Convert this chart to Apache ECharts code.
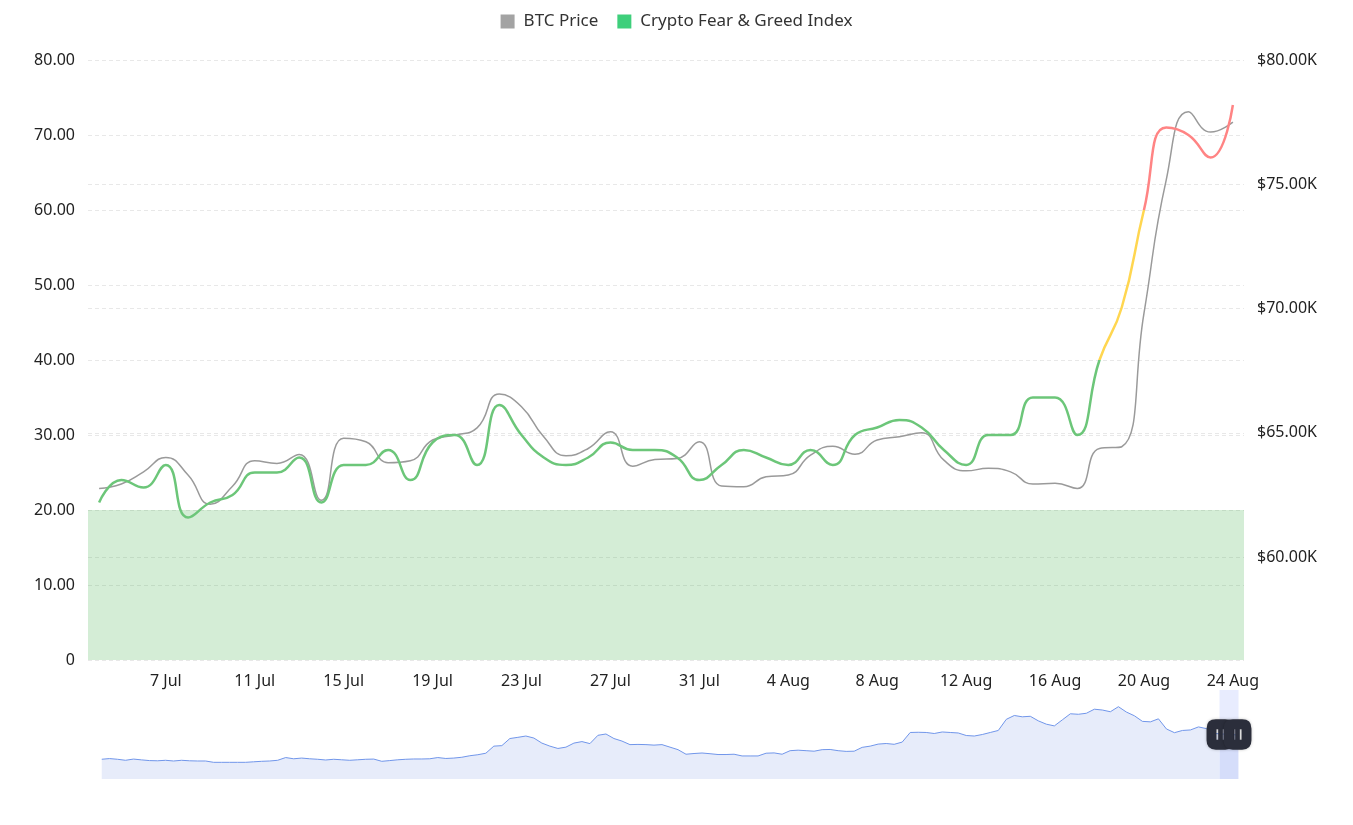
<!DOCTYPE html>
<html>
<head>
<meta charset="utf-8">
<script src="https://cdn.jsdelivr.net/npm/echarts@6/dist/echarts.min.js"></script>
<style>
html,body{margin:0;padding:0;background:#fff;}
#chart{width:1353px;height:825px;}
</style>
</head>
<body>
<div id="chart"></div>
<script>
// ---- data ----
const categories = ['4 Jul','5 Jul','6 Jul','7 Jul','8 Jul','9 Jul','10 Jul','11 Jul','12 Jul','13 Jul','14 Jul','15 Jul','16 Jul','17 Jul','18 Jul','19 Jul','20 Jul','21 Jul','22 Jul','23 Jul','24 Jul','25 Jul','26 Jul','27 Jul','28 Jul','29 Jul','30 Jul','31 Jul',
  '1 Aug','2 Aug','3 Aug','4 Aug','5 Aug','6 Aug','7 Aug','8 Aug','9 Aug','10 Aug','11 Aug','12 Aug','13 Aug','14 Aug','15 Aug','16 Aug','17 Aug','18 Aug','19 Aug','20 Aug','21 Aug','22 Aug','23 Aug','24 Aug'];

const btcPrice = [62760,62940,63430,64010,63300,62130,62850,63880,63770,64130,62290,64780,64640,63800,63880,64710,64910,65200,66560,66050,64840,64080,64370,65040,63660,63930,63970,64640,
  62860,62830,63230,63300,64100,64460,64140,64710,64840,65000,63900,63470,63570,63430,62940,62970,62760,64370,64440,69810,75170,77920,77100,77500];

const fearGreed = [21,24,23,26,19,21,22,25,25,27,21,26,26,28,24,29,30,26,34,30,27,26,27,29,28,28,27,24,
  26,28,27,26,28,26,30,31,32,31,28,26,30,30,35,35,30,40,47,60,71,70,67,74];

// long history shown only in the zoom slider's overview (relative level)
const history = [19,19.7,19,18,19.2,18.4,17.7,17.5,18,17.3,18,17.5,17.3,17.3,16,16,16,16,16,16.5,
  17,17.3,18,20.7,19.5,20.2,19.5,19,18.3,19,18.5,18,18.5,19,19.2,17,17.7,18.5,19,19.3,
  19.3,19.5,20.7,19.8,20.2,21,22.5,23.5,25,32,32.5,39.5,40.7,42,40,35,32,29.7,31,35,
  36.5,34.5,42.7,44,39.5,37,33.5,33.7,33.5,33,33.5,31,28.5,24,24.7,25.2,24.5,23.7,23.7,24,
  22.3,22.3,22.3,25,25.3,24,27.5,28,27.5,27,28.5,28.7,27.5,26.8,27,30.8,32,34,34.6,33.8,
  36,45.5,45.7,45.5,44.5,46,45.5,45,42.5,42,43.5,45.5,47.5,58.5,62.3,61,61.5,57,53.7,52,
  58,64,63.5,64.5,68.5,67.7,66,71,65.7,62,56.5,56,59,49,45.3,47.5,48,51,49.3,44.5,
  44,43.5,43];

const legendNames = ['BTC Price', 'Crypto Fear & Greed Index'];
const fgPieces = [
  { lte: 40, color: '#6cc679' },
  { gt: 40, lte: 60, color: '#ffd650' },
  { gt: 60, color: '#ff8484' }
];
const zoneBand = [0, 20];

// ---- chart ----
const chart = echarts.init(document.getElementById('chart'), null, { renderer: 'canvas' });
const FONT = 'Noto Sans';
const splitStyle = { show: true, lineStyle: { color: '#e8e8e8', type: [4, 3], width: 1 } };

const handlePath = 'path://M8,0 L16,0 Q24,0 24,8 L24,18 Q24,26 16,26 L8,26 Q0,26 0,18 L0,8 Q0,0 8,0 Z ' +
  'M8.5,8.5 L8.5,17.5 L10,17.5 L10,8.5 Z M14,8.5 L14,17.5 L15.5,17.5 L15.5,8.5 Z';

const option = {
  animation: false,
  textStyle: { fontFamily: FONT },
  legend: {
    data: legendNames,
    top: 8,
    left: 'center',
    icon: 'rect',
    itemWidth: 14,
    itemHeight: 14,
    itemGap: 19,
    textStyle: { fontSize: 17, color: '#333', fontFamily: FONT, padding: [0, 0, 0, 4] }
  },
  grid: [
    { left: 88, right: 109, top: 60, bottom: 165 },
    { left: 101, right: 115, top: 690, height: 89, show: false }
  ],
  xAxis: [
    {
      type: 'category',
      gridIndex: 0,
      data: categories,
      boundaryGap: true,
      axisLine: { show: false },
      axisTick: { show: false },
      axisLabel: {
        interval: function (index) { return index % 4 === 3; },
        fontSize: 16, color: '#222', margin: 13, fontFamily: FONT
      },
      splitLine: { show: false }
    },
    { type: 'category', gridIndex: 1, show: false, boundaryGap: false }
  ],
  yAxis: [
    {
      type: 'value', gridIndex: 0, position: 'left',
      min: 0, max: 80, interval: 10,
      axisLine: { show: false }, axisTick: { show: false },
      axisLabel: {
        fontSize: 16, color: '#222', margin: 13, fontFamily: FONT,
        formatter: function (v) { return v === 0 ? '0' : v.toFixed(2); }
      },
      splitLine: splitStyle
    },
    {
      type: 'value', gridIndex: 0, position: 'right',
      min: 55860, max: 80000,
      axisLine: { show: false }, axisTick: { show: false },
      axisLabel: {
        fontSize: 16, color: '#222', margin: 13, fontFamily: FONT, showMinLabel: false,
        formatter: function (v) { return '$' + (v / 1000).toFixed(2) + 'K'; }
      },
      splitLine: splitStyle
    },
    { type: 'value', gridIndex: 1, show: false, scale: true }
  ],
  visualMap: {
    type: 'piecewise',
    show: false,
    seriesIndex: 1,
    dimension: 1,
    pieces: fgPieces
  },
  dataZoom: [{
    type: 'slider',
    xAxisIndex: 1,
    start: 98.33,
    end: 100,
    left: 99,
    right: 117,
    top: 690,
    height: 89,
    showDetail: false,
    brushSelect: false,
    moveHandleSize: 0,
    moveHandleStyle: { opacity: 0 },
    backgroundColor: 'rgba(0,0,0,0)',
    borderColor: 'rgba(0,0,0,0)',
    fillerColor: 'rgba(150,170,250,0.22)',
    dataBackground: {
      lineStyle: { color: '#7196ea', width: 1, opacity: 1 },
      areaStyle: { color: '#e7ecfa', opacity: 1 }
    },
    selectedDataBackground: {
      lineStyle: { color: '#7196ea', width: 1, opacity: 1 },
      areaStyle: { color: '#e7ecfa', opacity: 1 }
    },
    handleIcon: handlePath,
    handleSize: '34%',
    handleStyle: { color: '#2b2e3b', borderColor: '#2b2e3b', borderWidth: 0, shadowBlur: 3, shadowColor: 'rgba(0,0,0,0.25)' },
    emphasis: { handleStyle: { color: '#2b2e3b', borderColor: '#2b2e3b' } }
  }],
  series: [
    {
      name: 'BTC Price',
      type: 'line',
      xAxisIndex: 0,
      yAxisIndex: 1,
      data: btcPrice,
      smooth: true,
      showSymbol: false,
      itemStyle: { color: '#a3a3a3' },
      lineStyle: { color: '#9a9a9a', width: 1.5 },
      z: 2
    },
    {
      name: 'Crypto Fear & Greed Index',
      type: 'line',
      xAxisIndex: 0,
      yAxisIndex: 0,
      data: fearGreed,
      smooth: true,
      showSymbol: false,
      itemStyle: { color: '#3ecf7b' },
      lineStyle: { width: 2.5 },
      z: 3,
      markArea: {
        silent: true,
        itemStyle: { color: 'rgba(76,178,84,0.24)' },
        data: [[{ yAxis: zoneBand[0] }, { yAxis: zoneBand[1] }]]
      }
    },
    {
      name: 'history',
      type: 'line',
      xAxisIndex: 1,
      yAxisIndex: 2,
      data: history,
      showSymbol: false,
      silent: true,
      lineStyle: { opacity: 0 },
      itemStyle: { opacity: 0 },
      tooltip: { show: false }
    }
  ]
};
chart.setOption(option);
</script>
</body>
</html>
